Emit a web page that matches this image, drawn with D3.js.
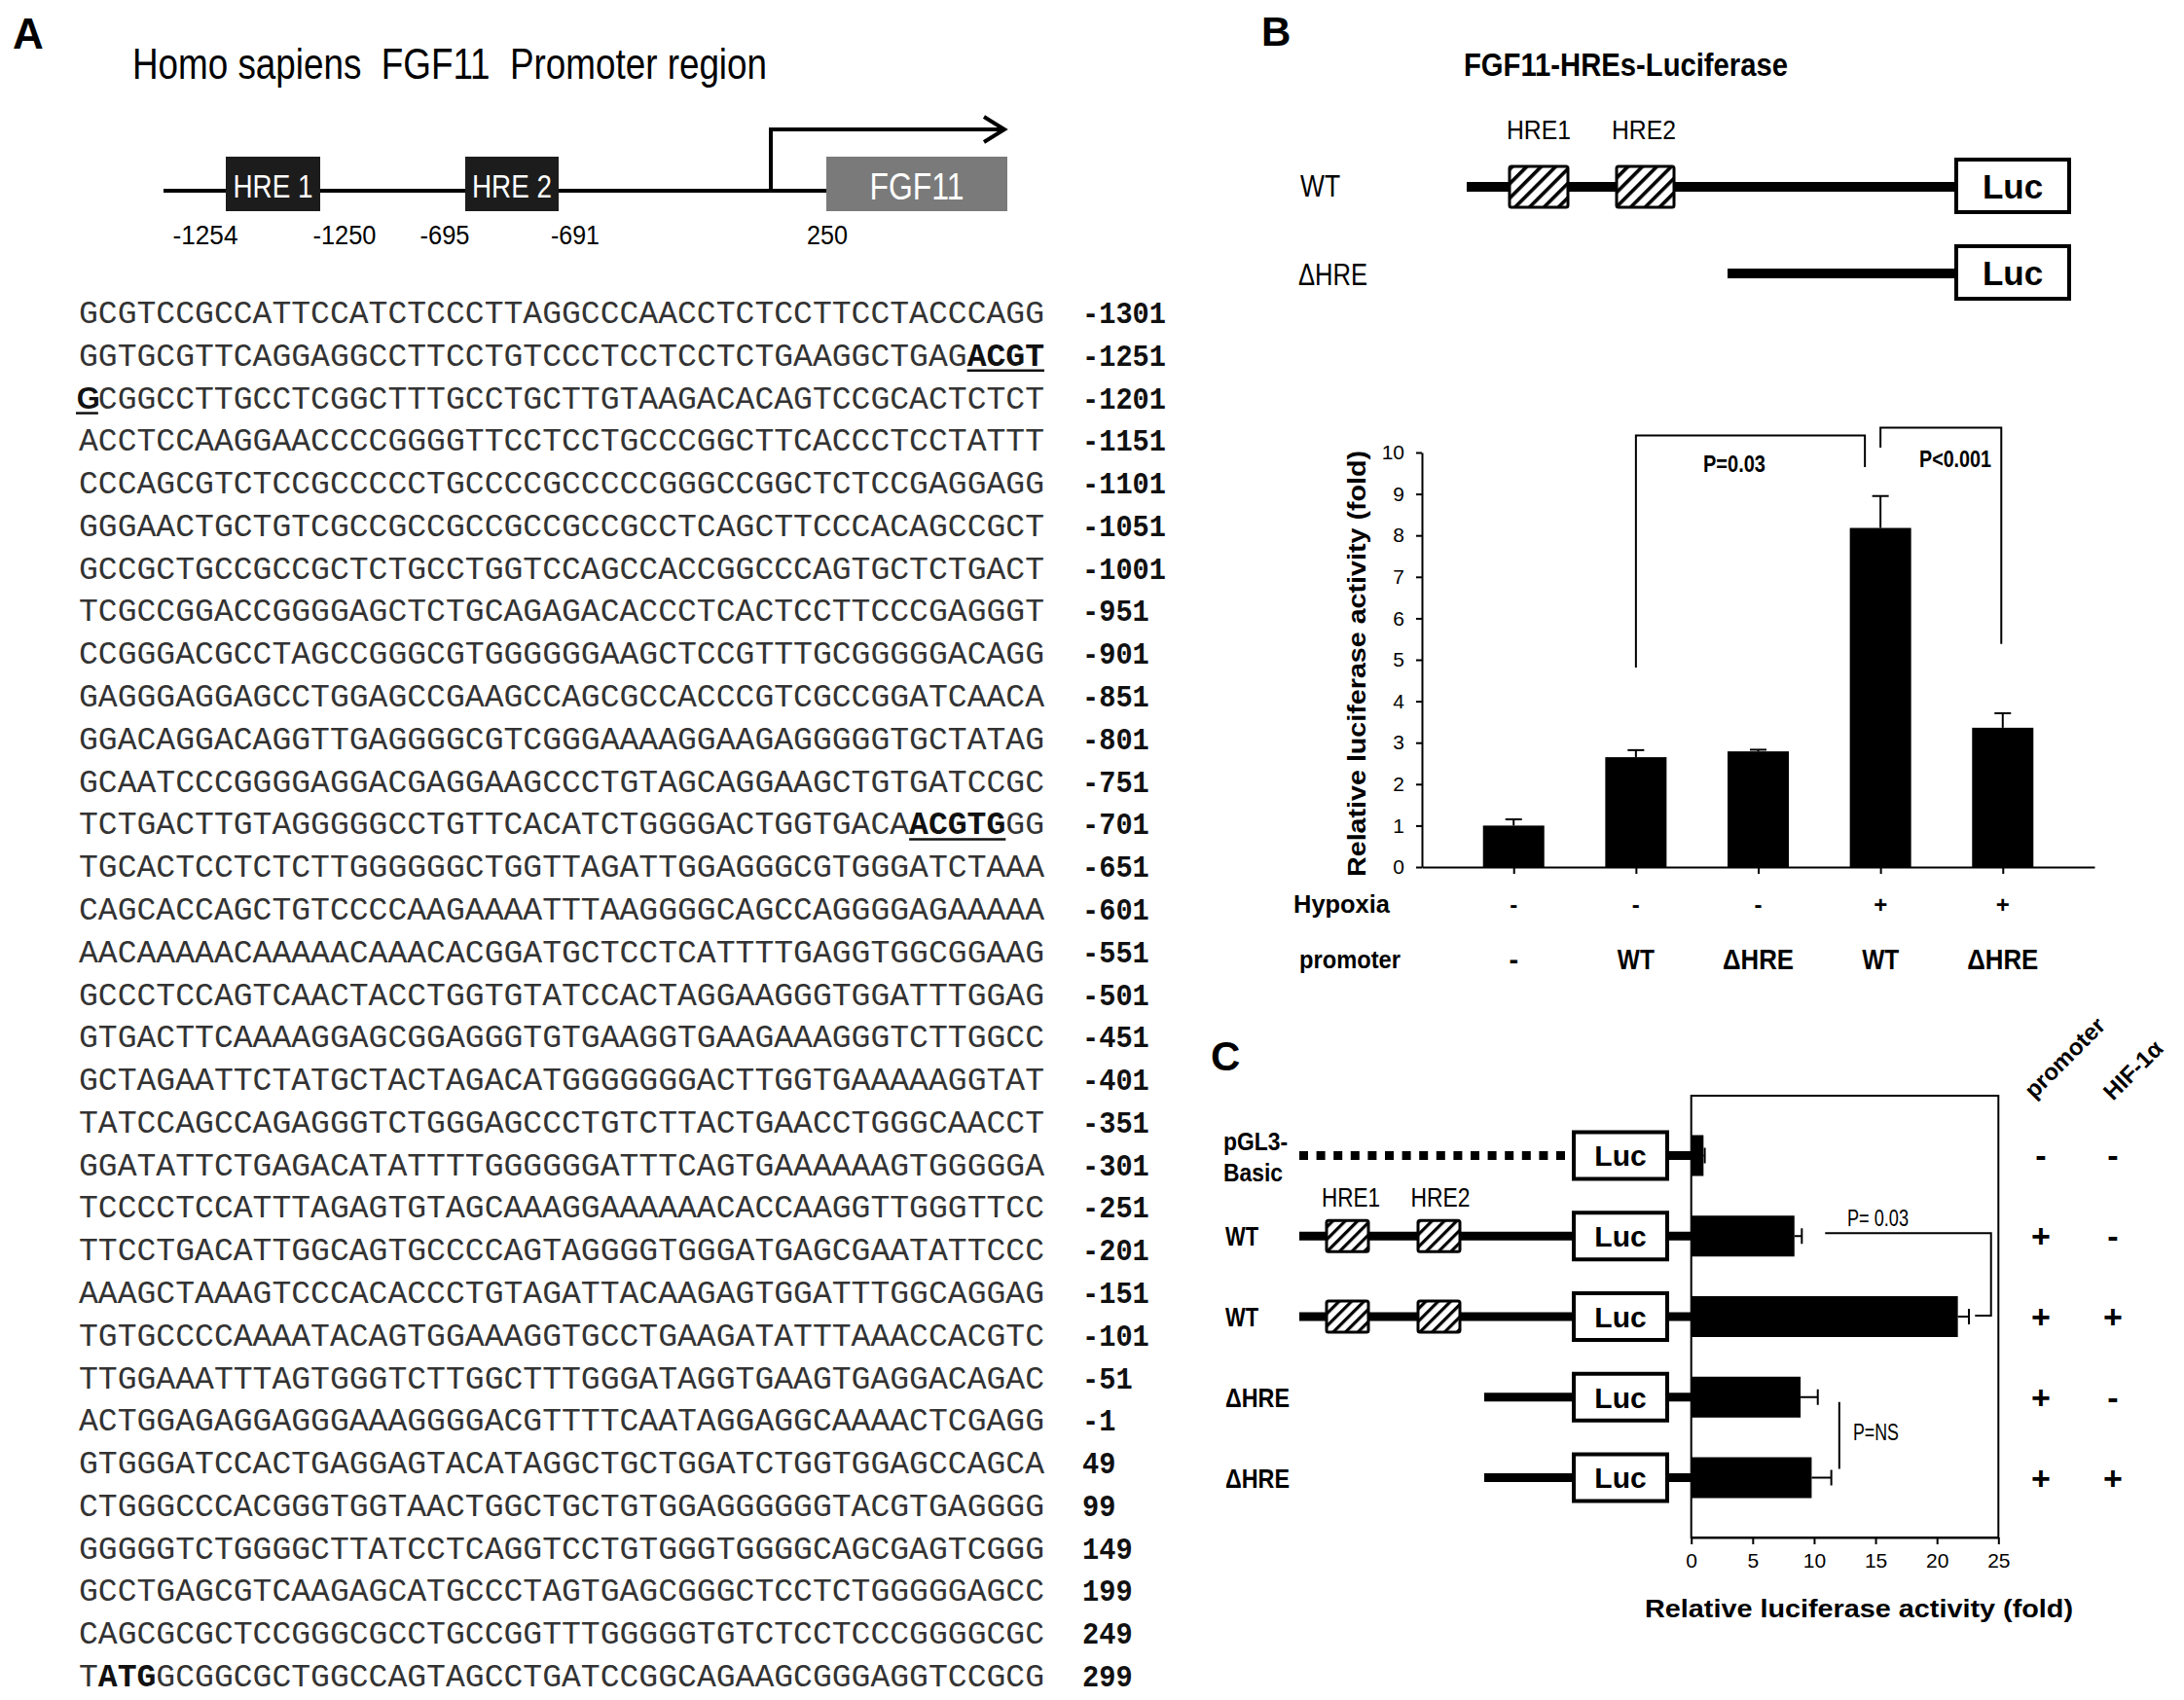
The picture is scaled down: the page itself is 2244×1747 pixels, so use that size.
<!DOCTYPE html>
<html>
<head>
<meta charset="utf-8">
<script src="https://cdn.jsdelivr.net/npm/d3@7"></script>
<style>
  body { margin: 0; background: #fff; }
  text { font-family: "Liberation Sans", Arial, Helvetica, sans-serif; }
  .seq { font-family: "Courier New", "Liberation Mono", monospace; }
</style>
</head>
<body>
<svg id="fig" width="2244" height="1747"></svg>
<script>
// ---------- data ----------
// panel A: promoter sequence, 50 nt per row, with the position of the last base
const seqRows = [
  "GCGTCCGCCATTCCATCTCCCTTAGGCCCAACCTCTCCTTCCTACCCAGG",
  "GGTGCGTTCAGGAGGCCTTCCTGTCCCTCCTCCTCTGAAGGCTGAGACGT",
  "GCGGCCTTGCCTCGGCTTTGCCTGCTTGTAAGACACAGTCCGCACTCTCT",
  "ACCTCCAAGGAACCCCGGGGTTCCTCCTGCCCGGCTTCACCCTCCTATTT",
  "CCCAGCGTCTCCGCCCCCTGCCCCGCCCCCGGGCCGGCTCTCCGAGGAGG",
  "GGGAACTGCTGTCGCCGCCGCCGCCGCCGCCTCAGCTTCCCACAGCCGCT",
  "GCCGCTGCCGCCGCTCTGCCTGGTCCAGCCACCGGCCCAGTGCTCTGACT",
  "TCGCCGGACCGGGGAGCTCTGCAGAGACACCCTCACTCCTTCCCGAGGGT",
  "CCGGGACGCCTAGCCGGGCGTGGGGGGAAGCTCCGTTTGCGGGGGACAGG",
  "GAGGGAGGAGCCTGGAGCCGAAGCCAGCGCCACCCGTCGCCGGATCAACA",
  "GGACAGGACAGGTTGAGGGGCGTCGGGAAAAGGAAGAGGGGGTGCTATAG",
  "GCAATCCCGGGGAGGACGAGGAAGCCCTGTAGCAGGAAGCTGTGATCCGC",
  "TCTGACTTGTAGGGGGCCTGTTCACATCTGGGGACTGGTGACAACGTGGG",
  "TGCACTCCTCTCTTGGGGGGCTGGTTAGATTGGAGGGCGTGGGATCTAAA",
  "CAGCACCAGCTGTCCCCAAGAAAATTTAAGGGGCAGCCAGGGGAGAAAAA",
  "AACAAAAACAAAAACAAACACGGATGCTCCTCATTTTGAGGTGGCGGAAG",
  "GCCCTCCAGTCAACTACCTGGTGTATCCACTAGGAAGGGTGGATTTGGAG",
  "GTGACTTCAAAAGGAGCGGAGGGTGTGAAGGTGAAGAAAGGGTCTTGGCC",
  "GCTAGAATTCTATGCTACTAGACATGGGGGGGACTTGGTGAAAAAGGTAT",
  "TATCCAGCCAGAGGGTCTGGGAGCCCTGTCTTACTGAACCTGGGCAACCT",
  "GGATATTCTGAGACATATTTTGGGGGGATTTCAGTGAAAAAAGTGGGGGA",
  "TCCCCTCCATTTAGAGTGTAGCAAAGGAAAAAACACCAAGGTTGGGTTCC",
  "TTCCTGACATTGGCAGTGCCCCAGTAGGGGTGGGATGAGCGAATATTCCC",
  "AAAGCTAAAGTCCCACACCCTGTAGATTACAAGAGTGGATTTGGCAGGAG",
  "TGTGCCCCAAAATACAGTGGAAAGGTGCCTGAAGATATTTAAACCACGTC",
  "TTGGAAATTTAGTGGGTCTTGGCTTTGGGATAGGTGAAGTGAGGACAGAC",
  "ACTGGAGAGGAGGGAAAGGGGACGTTTTCAATAGGAGGCAAAACTCGAGG",
  "GTGGGATCCACTGAGGAGTACATAGGCTGCTGGATCTGGTGGAGCCAGCA",
  "CTGGGCCCACGGGTGGTAACTGGCTGCTGTGGAGGGGGGTACGTGAGGGG",
  "GGGGGTCTGGGGCTTATCCTCAGGTCCTGTGGGTGGGGCAGCGAGTCGGG",
  "GCCTGAGCGTCAAGAGCATGCCCTAGTGAGCGGGCTCCTCTGGGGGAGCC",
  "CAGCGCGCTCCGGGCGCCTGCCGGTTTGGGGGTGTCTCCTCCCGGGGCGC",
  "TATGGCGGCGCTGGCCAGTAGCCTGATCCGGCAGAAGCGGGAGGTCCGCG"
];
const seqPos = [
  "-1301", "-1251", "-1201", "-1151", "-1101", "-1051", "-1001", "-951",
  "-901", "-851", "-801", "-751", "-701", "-651", "-601", "-551", "-501",
  "-451", "-401", "-351", "-301", "-251", "-201", "-151", "-101", "-51",
  "-1", "49", "99", "149", "199", "249", "299"
];
// highlighted bases: HRE cores (bold + underline) and start codon (bold)
const seqMarks = [
  { row: 1, start: 46, len: 4, underline: true, sans: false },
  { row: 2, start: 0, len: 1, underline: true, sans: true },
  { row: 12, start: 43, len: 5, underline: true, sans: false },
  { row: 32, start: 1, len: 3, underline: false, sans: false }
];

// panel A: promoter map labels
const hreNames = ["HRE 1", "HRE 2"];
const mapPositions = ["-1254", "-1250", "-695", "-691", "250"];

// panel B: luciferase assay under hypoxia
const groupsB = ["ctrl", "WT", "dHRE", "WT+hyp", "dHRE+hyp"];
const hypoxiaB = ["-", "-", "-", "+", "+"];
const promoterB = ["-", "WT", "\u0394HRE", "WT", "\u0394HRE"];
const valuesB = [1.0, 2.65, 2.79, 8.18, 3.36];
const errorsB = [0.15, 0.17, 0.04, 0.77, 0.35];
const yTicksB = [0, 1, 2, 3, 4, 5, 6, 7, 8, 9, 10];

// panel C: luciferase assay with HIF-1a
const constructsC = ["pGL3-Basic", "WT", "WT", "\u0394HRE", "\u0394HRE"];
const promoterC = ["-", "+", "+", "+", "+"];
const hifC = ["-", "-", "+", "-", "+"];
const valuesC = [1.0, 8.4, 21.7, 8.9, 9.8];
const errorsC = [0.1, 0.6, 0.9, 1.4, 1.6];
const xTicksC = [0, 5, 10, 15, 20, 25];

// ---------- helpers ----------
const svg = d3.select("#fig");
svg.append("rect").attr("width", 2244).attr("height", 1747).attr("fill", "#fff");

function txt(g, x, y, s, o = {}) {
  const t = g.append("text")
    .attr("x", x).attr("y", y)
    .attr("font-size", o.size || 24)
    .attr("font-weight", o.bold ? "bold" : null)
    .attr("text-anchor", o.anchor || "start")
    .attr("fill", o.fill || "#000")
    .text(s);
  if (o.w) t.attr("textLength", o.w).attr("lengthAdjust", "spacingAndGlyphs");
  if (o.cls) t.attr("class", o.cls);
  return t;
}

function hatch(id, step, lw) {
  const p = svg.append("defs").append("pattern")
    .attr("id", id)
    .attr("patternUnits", "userSpaceOnUse")
    .attr("width", step).attr("height", step)
    .attr("patternTransform", "rotate(45)");
  p.append("rect").attr("width", step).attr("height", step).attr("fill", "#fff");
  p.append("rect").attr("width", lw).attr("height", step).attr("fill", "#000");
}
hatch("hatchB", 10.5, 3.6);
hatch("hatchC", 9, 3.2);

// ---------- panel A ----------
const gA = svg.append("g");
txt(gA, 13, 50, "A", { size: 44, bold: true });
txt(gA, 136, 81, "Homo sapiens  FGF11  Promoter region", { size: 44, w: 652 })
  .style("white-space", "pre");

// promoter map
const mapY = 196;
gA.append("line").attr("x1", 168).attr("x2", 849).attr("y1", mapY).attr("y2", mapY)
  .attr("stroke", "#000").attr("stroke-width", 4);
const hreBoxes = [{ x: 232, w: 97 }, { x: 478, w: 96 }];
hreBoxes.forEach((b, i) => {
  gA.append("rect").attr("x", b.x).attr("y", 161).attr("width", b.w).attr("height", 56)
    .attr("fill", "#1c1c1c");
  txt(gA, b.x + b.w / 2, 203, hreNames[i], { size: 33, anchor: "middle", fill: "#fff", w: 82 })
    .style("white-space", "pre");
});
gA.append("rect").attr("x", 849).attr("y", 161).attr("width", 186).attr("height", 56)
  .attr("fill", "#7a7a7a");
txt(gA, 942, 205, "FGF11", { size: 38, anchor: "middle", fill: "#fff", w: 97 });
// transcription start arrow
gA.append("path").attr("d", "M792,196 V133 H1030").attr("fill", "none")
  .attr("stroke", "#000").attr("stroke-width", 4);
gA.append("path").attr("d", "M1011,120 L1032,133 L1011,146").attr("fill", "none")
  .attr("stroke", "#000").attr("stroke-width", 4);
const mapLabelX = [211, 354, 457, 591, 850];
const mapLabelW = [67, 65, 51, 50, 42];
mapPositions.forEach((s, i) => {
  txt(gA, mapLabelX[i], 251, s, { size: 27, anchor: "middle", w: mapLabelW[i] });
});

// sequence block
const seqX = 81, charW = 19.84;
const rowY = d3.scaleLinear().domain([0, seqRows.length - 1]).range([332, 1733]);
const gS = gA.append("g");
seqRows.forEach((row, r) => {
  const y = rowY(r);
  const m = seqMarks.find(d => d.row === r);
  const parts = m
    ? [{ s: row.slice(0, m.start), i: 0 }, { s: row.substr(m.start, m.len), i: m.start, mark: m },
       { s: row.slice(m.start + m.len), i: m.start + m.len }]
    : [{ s: row, i: 0 }];
  parts.filter(p => p.s.length).forEach(p => {
    const x = seqX + p.i * charW;
    if (p.mark && p.mark.sans) {
      txt(gS, x + charW / 2, y, p.s, { size: 31, bold: true, anchor: "middle", fill: "#111" });
    } else {
      txt(gS, x, y, p.s, {
        size: 33, bold: !!p.mark, fill: p.mark ? "#111" : "#333",
        w: p.s.length * charW, cls: "seq"
      });
    }
    if (p.mark && p.mark.underline) {
      gS.append("line")
        .attr("x1", p.mark.sans ? x - 3 : x).attr("x2", x + p.s.length * charW)
        .attr("y1", y + 5).attr("y2", y + 5)
        .attr("stroke", "#111").attr("stroke-width", 2.5);
    }
  });
  txt(gS, 1112, y, seqPos[r], { size: 31, bold: true, fill: "#111", w: seqPos[r].length * 17.2, cls: "seq" });
});

// ---------- panel B ----------
const gB = svg.append("g");
txt(gB, 1296, 47, "B", { size: 42, bold: true });
txt(gB, 1504, 78, "FGF11-HREs-Luciferase", { size: 33, bold: true, w: 333 });

// constructs
function lucBox(g, x, cy, w, h, fs, sw) {
  g.append("rect").attr("x", x).attr("y", cy - h / 2).attr("width", w).attr("height", h)
    .attr("fill", "#fff").attr("stroke", "#000").attr("stroke-width", sw);
  txt(g, x + w / 2, cy + fs * 0.36, "Luc", { size: fs, bold: true, anchor: "middle" });
}
function hreBox(g, x, cy, w, h, pat) {
  g.append("rect").attr("x", x).attr("y", cy - h / 2).attr("width", w).attr("height", h)
    .attr("rx", 2).attr("fill", `url(#${pat})`).attr("stroke", "#000").attr("stroke-width", 3);
}
const wtY = 192, dY = 281;
gB.append("line").attr("x1", 1507).attr("x2", 2012).attr("y1", wtY).attr("y2", wtY)
  .attr("stroke", "#000").attr("stroke-width", 10);
gB.append("line").attr("x1", 1775).attr("x2", 2012).attr("y1", dY).attr("y2", dY)
  .attr("stroke", "#000").attr("stroke-width", 10);
hreBox(gB, 1551, wtY, 60, 42, "hatchB");
hreBox(gB, 1661, wtY, 59, 42, "hatchB");
txt(gB, 1581, 143, "HRE1", { size: 27, anchor: "middle", w: 66 });
txt(gB, 1689, 143, "HRE2", { size: 27, anchor: "middle", w: 66 });
lucBox(gB, 2010, 191, 116, 54, 35, 4);
lucBox(gB, 2010, 280, 116, 54, 35, 4);
txt(gB, 1336, 202, "WT", { size: 31, w: 41 });
txt(gB, 1334, 293, "\u0394HRE", { size: 31, w: 71 });

// bar chart
const xB = d3.scalePoint().domain(groupsB).range([1461, 2152]).padding(0.75);
const yB = d3.scaleLinear().domain([0, 10]).range([891, 465]);
const barWB = 63;

gB.append("g").attr("transform", "translate(1461,0)")
  .call(d3.axisLeft(yB).tickValues(yTicksB).tickSize(6).tickPadding(12).tickSizeOuter(0))
  .call(a => a.select(".domain").attr("stroke-width", 2))
  .call(a => a.selectAll(".tick line").attr("stroke-width", 2))
  .call(a => a.selectAll(".tick text").attr("font-size", 21)
    .attr("font-family", "Liberation Sans, Arial, sans-serif"));
gB.append("g").attr("transform", "translate(0,891)")
  .call(d3.axisBottom(xB).tickSize(7).tickSizeOuter(0).tickFormat(""))
  .call(a => a.select(".domain").attr("stroke-width", 2))
  .call(a => a.selectAll(".tick line").attr("stroke-width", 2));

gB.selectAll(".barB").data(groupsB).enter().append("rect")
  .attr("class", "barB")
  .attr("x", d => xB(d) - barWB / 2)
  .attr("width", barWB)
  .attr("y", (d, i) => yB(valuesB[i]))
  .attr("height", (d, i) => yB(0) - yB(valuesB[i]))
  .attr("fill", "#000");
groupsB.forEach((d, i) => {
  const cx = xB(d), top = yB(valuesB[i]), e = yB(valuesB[i] + errorsB[i]);
  gB.append("line").attr("x1", cx).attr("x2", cx).attr("y1", top).attr("y2", e)
    .attr("stroke", "#000").attr("stroke-width", 2);
  gB.append("line").attr("x1", cx - 8.5).attr("x2", cx + 8.5).attr("y1", e).attr("y2", e)
    .attr("stroke", "#000").attr("stroke-width", 2);
});

txt(gB, 0, 0, "Relative luciferase activity (fold)", { size: 26, bold: true, anchor: "middle", w: 438 })
  .attr("transform", "translate(1403,682) rotate(-90)");

// significance brackets (heights in fold units)
function bracketB(i, j, top, endI, endJ, dxJ, label, lx, ly, lw) {
  const x1 = xB(groupsB[i]), x2 = xB(groupsB[j]) + dxJ;
  gB.append("path")
    .attr("d", `M${x1},${yB(endI)} V${yB(top)} H${x2} V${yB(endJ)}`)
    .attr("fill", "none").attr("stroke", "#000").attr("stroke-width", 2);
  txt(gB, lx, ly, label, { size: 24, bold: true, anchor: "middle", w: lw });
}
bracketB(1, 3, 10.41, 4.81, 9.65, -16, "P=0.03", 1782, 485, 64);
bracketB(3, 4, 10.6, 10.12, 5.38, -1.5, "P<0.001", 2009, 480, 74);

txt(gB, 1329, 938, "Hypoxia", { size: 26, bold: true, w: 99 });
txt(gB, 1335, 995, "promoter", { size: 26, bold: true, w: 104 });
groupsB.forEach((d, i) => {
  txt(gB, xB(d), 938, hypoxiaB[i], { size: 24, bold: true, anchor: "middle" });
  const p = promoterB[i];
  txt(gB, xB(d), 996, p, {
    size: 29, bold: true, anchor: "middle",
    w: p === "WT" ? 38 : p === "-" ? null : 73
  });
});

// ---------- panel C ----------
const gC = svg.append("g");
txt(gC, 1244, 1100, "C", { size: 42, bold: true });

const yC = d3.scalePoint().domain(d3.range(constructsC.length)).range([1126, 1580]).padding(0.743);
const xC = d3.scaleLinear().domain([0, 25]).range([1737.7, 2053.3]);
const barHC = 42;

// plot frame and axis
gC.append("rect").attr("x", xC(0)).attr("y", 1126).attr("width", xC(25) - xC(0)).attr("height", 454)
  .attr("fill", "none").attr("stroke", "#000").attr("stroke-width", 2);
gC.append("g").attr("transform", "translate(0,1580)")
  .call(d3.axisBottom(xC).tickValues(xTicksC).tickSize(7).tickPadding(9).tickSizeOuter(0))
  .call(a => a.select(".domain").attr("stroke-width", 2))
  .call(a => a.selectAll(".tick line").attr("stroke-width", 2))
  .call(a => a.selectAll(".tick text").attr("font-size", 21)
    .attr("font-family", "Liberation Sans, Arial, sans-serif"));
txt(gC, 1690, 1662, "Relative luciferase activity (fold)", { size: 26, bold: true, w: 440 });

// constructs drawn on each row
constructsC.forEach((name, i) => {
  const cy = yC(i);
  const startX = name === "\u0394HRE" ? 1525 : 1335;
  const line = gC.append("line").attr("x1", startX).attr("x2", 1619).attr("y1", cy).attr("y2", cy)
    .attr("stroke", "#000").attr("stroke-width", 9);
  if (name === "pGL3-Basic") line.attr("stroke-dasharray", "9 8.6");
  gC.append("line").attr("x1", 1711).attr("x2", xC(0)).attr("y1", cy).attr("y2", cy)
    .attr("stroke", "#000").attr("stroke-width", 9);
  if (name === "WT") {
    hreBox(gC, 1363, cy, 43, 32, "hatchC");
    hreBox(gC, 1457, cy, 43, 32, "hatchC");
  }
  lucBox(gC, 1617, cy, 96, 48, 30, 4);
  if (name === "pGL3-Basic") {
    txt(gC, 1257, cy - 5, "pGL3-", { size: 26, bold: true, w: 66 });
    txt(gC, 1257, cy + 27, "Basic", { size: 26, bold: true, w: 61 });
  } else {
    txt(gC, 1259, cy + 10, name, { size: 28, bold: true, w: name === "WT" ? 34 : 66 });
  }
  txt(gC, 2097, cy + 12, promoterC[i], { size: 34, bold: true, anchor: "middle" });
  txt(gC, 2171, cy + 12, hifC[i], { size: 34, bold: true, anchor: "middle" });
});
txt(gC, 1388, 1240, "HRE1", { size: 27, anchor: "middle", w: 60 });
txt(gC, 1480, 1240, "HRE2", { size: 27, anchor: "middle", w: 61 });

// bars with error bars
gC.selectAll(".barC").data(valuesC).enter().append("rect")
  .attr("class", "barC")
  .attr("x", xC(0))
  .attr("y", (d, i) => yC(i) - barHC / 2)
  .attr("width", d => xC(d) - xC(0))
  .attr("height", barHC)
  .attr("fill", "#000");
valuesC.forEach((v, i) => {
  const cy = yC(i), x1 = xC(v), x2 = xC(v + errorsC[i]);
  gC.append("line").attr("x1", x1).attr("x2", x2).attr("y1", cy).attr("y2", cy)
    .attr("stroke", "#000").attr("stroke-width", 2);
  gC.append("line").attr("x1", x2).attr("x2", x2).attr("y1", cy - 8).attr("y2", cy + 8)
    .attr("stroke", "#000").attr("stroke-width", 2);
});

// significance marks
gC.append("path")
  .attr("d", `M${xC(10.9)},${yC(1) - 3} H${xC(24.4)} V${yC(2) - 1} H${xC(23.1)}`)
  .attr("fill", "none").attr("stroke", "#000").attr("stroke-width", 2);
txt(gC, 1898, yC(1) - 10, "P= 0.03", { size: 24, w: 63 }).style("white-space", "pre");
gC.append("line").attr("x1", xC(12.05)).attr("x2", xC(12.05))
  .attr("y1", yC(3) + 5).attr("y2", yC(4) - 9)
  .attr("stroke", "#000").attr("stroke-width", 2);
txt(gC, 1904, 1480, "P=NS", { size: 24, w: 47 });

// rotated column headers
txt(gC, 0, 0, "promoter", { size: 24, bold: true }).attr("transform", "translate(2090,1130) rotate(-45)");
txt(gC, 0, 0, "HIF-1\u03b1", { size: 24, bold: true }).attr("transform", "translate(2171,1132) rotate(-45)");
</script>
</body>
</html>
